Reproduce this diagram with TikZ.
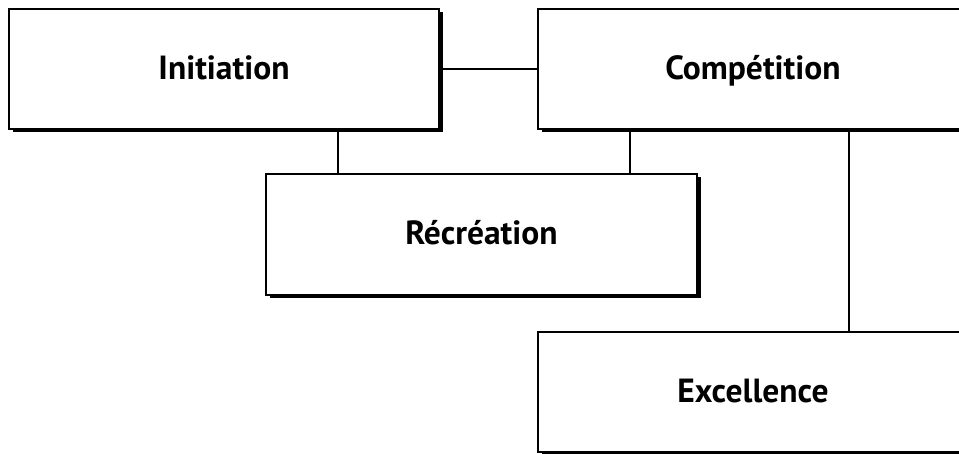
\documentclass[tikz,border=0pt]{standalone}
\usepackage{fontspec}
\setmainfont{PT Sans}
\usetikzlibrary{shadows}
\tikzset{
  box/.style={draw, line width=2pt, fill=white, anchor=north west,
    minimum width=430pt, minimum height=120pt, inner sep=0pt,
    text height=21pt, text depth=0pt,
    font=\bfseries\fontsize{33.5}{40}\selectfont,
    general shadow={shadow xshift=3.5pt, shadow yshift=-3.5pt, fill=black}},
  link/.style={line width=1.8pt}
}
\begin{document}
\begin{tikzpicture}[x=1pt, y=-1pt]
\useasboundingbox (0,0) rectangle (959,454);
\node[box] (ini) at (8,8) {Initiation};
\node[box] (comp) at (537,8) {Compétition};
\node[box, minimum width=431pt, minimum height=121pt] (rec) at (265,173) {Récréation};
\node[box] (exc) at (537,331) {Excellence};
\draw[link] (ini.east) -- (comp.west);
\draw[link] (ini.south -| 338,0) -- (rec.north -| 338,0);
\draw[link] (comp.south -| 630,0) -- (rec.north -| 630,0);
\draw[link] (comp.south -| 849,0) -- (exc.north -| 849,0);
\end{tikzpicture}
\end{document}
